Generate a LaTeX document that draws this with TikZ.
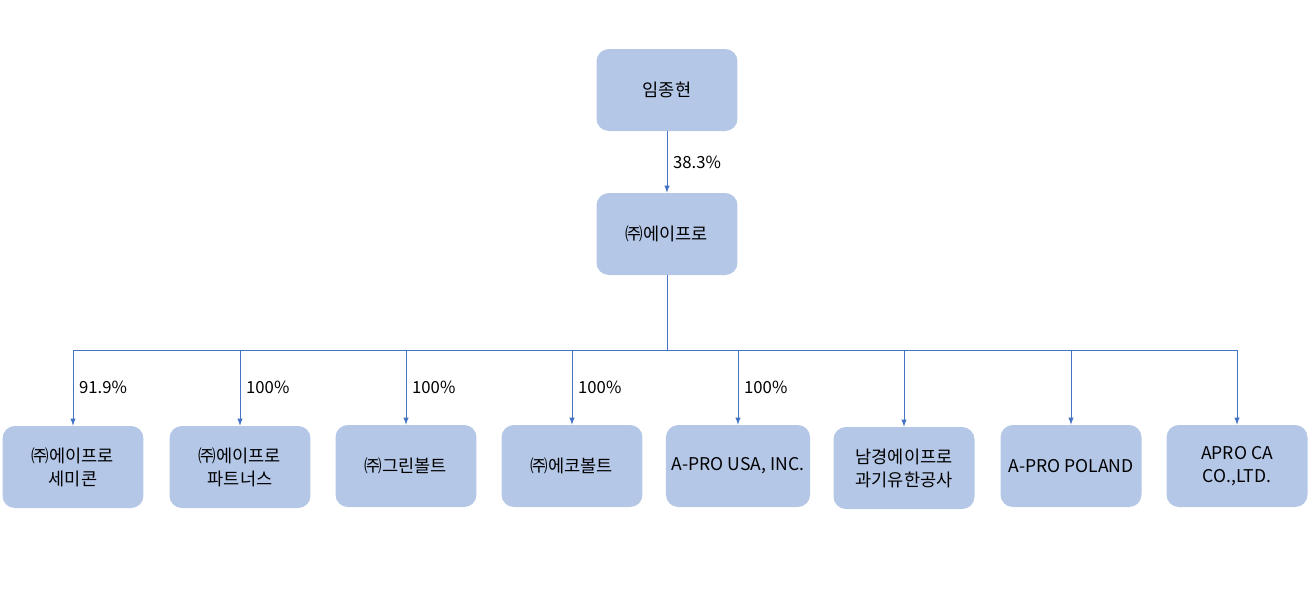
\documentclass[tikz,border=0pt]{standalone}
\usepackage{fontspec}
\setmainfont{Noto Sans CJK KR}
\usetikzlibrary{positioning}
\definecolor{boxfill}{HTML}{B4C7E7}
\definecolor{linec}{HTML}{4472C4}
\begin{document}
\begin{tikzpicture}[x=0.02cm,y=-0.02cm,box/.style={fill=boxfill,rounded corners=7pt,minimum width=2.82cm,minimum height=1.64cm,align=center,font=\fontsize{10}{13}\selectfont},arj/.style={draw=linec,-latex},pct/.style={font=\fontsize{9.5}{11}\selectfont}]
  \useasboundingbox (0,0) rectangle (1311,600);
   \node(owner)[box] at (667,90) {임종현};
   \node(apro)[box] at (667,234) {㈜에이프로};
   \draw[arj] (owner) -- node[right,pct]{38.3\%} (apro);
   \coordinate(bus) at (667,350);
   \draw[linec] (apro) -- (bus);
   \node(semicon)[box] at (73,467) {㈜에이프로\\세미콘};
   \node(partners)[box] at (240,467) {㈜에이프로\\파트너스};
   \node(green)[box] at (406,466) {㈜그린볼트};
   \node(eco)[box] at (572,466) {㈜에코볼트};
   \node(usa)[box] at (738,466) {A-PRO USA, INC.};
   \node(nanjing)[box] at (904,468) {남경에이프로\\과기유한공사};
   \node(poland)[box] at (1071,466) {A-PRO POLAND};
   \node(ca)[box] at (1237,466) {APRO CA\\CO.,LTD.};
   \foreach \n/\p in {semicon/91.9\%,partners/100\%,green/100\%,eco/100\%,usa/100\%,nanjing/,poland/,ca/}{
     \draw[arj] (bus) -| node[pos=0.75,right,pct]{\p} (\n);
   }
\end{tikzpicture}
\end{document}
